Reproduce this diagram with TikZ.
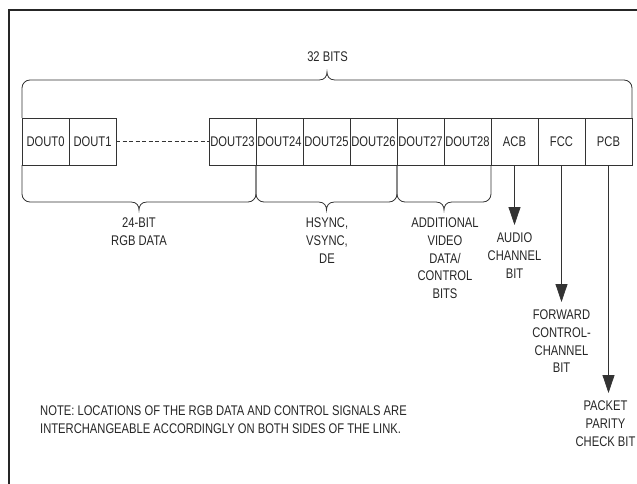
\documentclass[tikz,border=0pt]{standalone}
\usepackage{fontspec}
\setmainfont{Liberation Sans}[FakeStretch=0.8]
\usetikzlibrary{calc,arrows.meta,positioning}

% brace over a group of bits, tip pointing up
\newcommand{\bracetop}[2]{%
  \draw[brace] let \p1=(#1), \p2=(#2), \p3=($(#1)!0.5!(#2)$) in
    (\p1) -- (\x1,\y1+30pt) arc[start angle=180, end angle=90, radius=8pt]
    -- (\x3-8pt,\y1+38pt) .. controls (\x3-2pt,\y1+38pt) and (\x3,\y1+42pt) .. (\x3,\y1+46pt)
    .. controls (\x3,\y1+42pt) and (\x3+2pt,\y1+38pt) .. (\x3+8pt,\y1+38pt)
    -- (\x2-8pt,\y1+38pt) arc[start angle=90, end angle=0, radius=8pt] -- (\p2);}
% brace under a group of bits, tip pointing down
\newcommand{\bracebot}[2]{%
  \draw[brace] let \p1=(#1), \p2=(#2), \p3=($(#1)!0.5!(#2)$) in
    (\p1) -- (\x1,\y1-29pt) arc[start angle=180, end angle=270, radius=8pt]
    -- (\x3-8pt,\y1-37pt) .. controls (\x3-2pt,\y1-37pt) and (\x3,\y1-41pt) .. (\x3,\y1-45pt)
    .. controls (\x3,\y1-41pt) and (\x3+2pt,\y1-37pt) .. (\x3+8pt,\y1-37pt)
    -- (\x2-8pt,\y1-37pt) arc[start angle=270, end angle=360, radius=8pt] -- (\p2);}

\begin{document}
\begin{tikzpicture}[x=1pt, y=-1pt,
  every node/.style={font=\fontsize{14}{17.6}\selectfont, text=black!85},
  line/.style={draw=black!80, line width=0.8pt},
  bitbox/.style={line, minimum width=47pt, minimum height=47pt, inner sep=0pt, outer sep=0pt},
  lbl/.style={align=center, inner sep=0pt},
  brace/.style={line},
  arr/.style={line, shorten >=8pt, -{Triangle[length=18pt, width=12pt]}}
]
  \useasboundingbox (0,0) rectangle (637,484);
  \draw[black!85, line width=2pt] (9,484) -- (9,10) -- (637,10);

  % Bit boxes
  \node[bitbox] (d0) at (45.5,141.5) {DOUT0};
  \node[bitbox, right=0pt of d0] (d1) {DOUT1};
  \node[bitbox] (d23) at (232.5,141.5) {DOUT23};
  \node[bitbox, right=0pt of d23] (d24) {DOUT24};
  \node[bitbox, right=0pt of d24] (d25) {DOUT25};
  \node[bitbox, right=0pt of d25] (d26) {DOUT26};
  \node[bitbox, right=0pt of d26] (d27) {DOUT27};
  \node[bitbox, right=0pt of d27] (d28) {DOUT28};
  \node[bitbox, right=0pt of d28] (acb) {ACB};
  \node[bitbox, right=0pt of acb] (fcc) {FCC};
  \node[bitbox, right=0pt of fcc] (pcb) {PCB};

  \draw[line, dash pattern=on 4pt off 2.5pt] (d1) -- (d23);

  % Braces
  \bracetop{d0.north west}{pcb.north east}
  \bracebot{d0.south west}{d24.south west}
  \bracebot{d24.south west}{d27.south west}
  \bracebot{d27.south west}{d28.south east}

  \node[lbl] (all) at (327.5,57) {32 BITS};
  \node[lbl, anchor=north] (rgb) at (139,218) {24-BIT\\RGB DATA};
  \node[lbl, anchor=north] (sync) at (327,218) {HSYNC,\\VSYNC,\\DE};
  \node[lbl, anchor=north] (extra) at (445,218) {ADDITIONAL\\VIDEO\\DATA/\\CONTROL\\BITS};

  % Single-bit labels
  \node[lbl, anchor=north] (audio) at (acb |- 0,233) {AUDIO\\CHANNEL\\BIT};
  \node[lbl, anchor=north] (fwd) at (fcc |- 0,310) {FORWARD\\CONTROL-\\CHANNEL\\BIT};
  \node[lbl, anchor=north] (parity) at (605.5,401) {PACKET\\PARITY\\CHECK BIT};

  \draw[arr] (acb) -- (audio);
  \draw[arr] (fcc) -- (fwd);
  \draw[arr] (pcb) -- (pcb |- parity.north);

  \node[lbl, align=left, anchor=north west] (note) at (40,406)
    {NOTE: LOCATIONS OF THE RGB DATA AND CONTROL SIGNALS ARE\\INTERCHANGEABLE ACCORDINGLY ON BOTH SIDES OF THE LINK.};
\end{tikzpicture}
\end{document}
